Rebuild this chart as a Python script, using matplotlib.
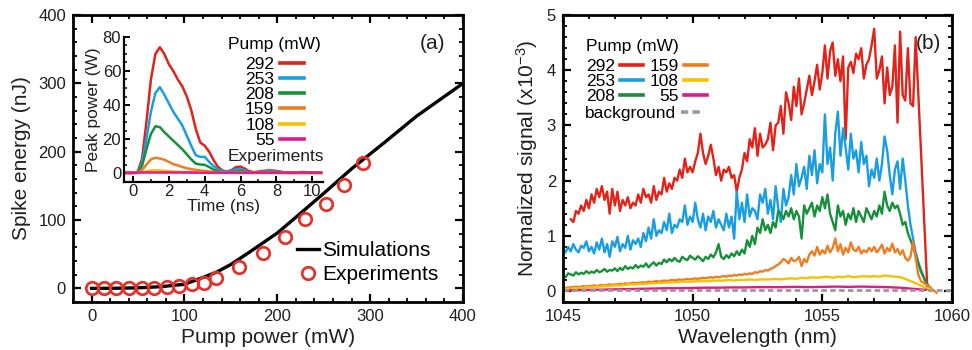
import numpy as np
import matplotlib
matplotlib.use('Agg')
import matplotlib.pyplot as plt
from matplotlib.ticker import MultipleLocator

plt.rcParams['font.family'] = ['Liberation Sans', 'DejaVu Sans']
plt.rcParams['mathtext.fontset'] = 'custom'
plt.rcParams['mathtext.rm'] = 'Liberation Sans'
plt.rcParams['mathtext.it'] = 'Liberation Sans:italic'
plt.rcParams['mathtext.default'] = 'regular'

# ---------------- data: panel (a) ----------------
sim_x = [0, 25, 50, 75, 100, 110, 120, 135, 150, 170, 200, 220, 250, 280, 315, 350, 400]
sim_y = [0, 0.2, 0.8, 2.5, 6, 11, 16, 24, 35, 53, 81, 104, 139, 175, 213, 252, 300]
exp_x = [0, 13, 26, 40, 54, 67, 81, 94, 108, 121, 134, 159, 185, 208, 230, 253, 272, 292]
exp_y = [0, 0, 0, 0, 0, 1, 2, 3.5, 7, 8.5, 14.5, 31, 52, 74.5, 101, 123, 151.5, 183]

# inset: peak power vs time
t_ns = [-0.5, -0.25, 0, 0.25, 0.5, 0.75, 1.0, 1.25, 1.5, 1.75, 2.0, 2.25, 2.5, 2.75, 3.0,
        3.25, 3.5, 3.75, 4.0, 4.25, 4.5, 4.75, 5.0, 5.25, 5.5, 5.75, 6.0, 6.25, 6.5, 6.75,
        7.0, 7.25, 7.5, 7.75, 8.0, 8.25, 8.5, 8.75, 9.0, 9.25, 9.5, 9.75, 10.0, 10.25, 10.5]
pk292 = [0, 0, 0, 0.5, 8, 30, 55, 70, 74, 70, 64, 60, 55, 51, 45, 37, 26, 18, 16, 12.5, 7.5,
         3.5, 1.5, 0.8, 1.8, 3.5, 3.8, 2.5, 1.0, 0.5, 0.8, 1.2, 1.5, 1.5, 1.2, 0.8, 0.3, 0.2,
         0.3, 0.5, 0.6, 0.4, 0.4, 0.3, 0.2]
pk253 = [0, 0, 0, 0.3, 6, 20, 36, 47, 50.5, 46, 41, 36, 32, 28, 22, 16, 10.5, 9.5, 9.5, 6.5,
         4, 2.2, 1.2, 1.0, 1.5, 2.2, 2.2, 1.5, 0.6, 0.4, 0.5, 0.8, 1.0, 1.0, 0.8, 0.5, 0.2, 0.1,
         0.2, 0.3, 0.4, 0.3, 0.3, 0.2, 0.1]
pk208 = [0, 0, 0, 0.2, 4, 14, 23, 27.5, 27, 24, 21.5, 19, 16.5, 14, 11, 8, 5.5, 5, 4.8, 3.5,
         2, 1, 0.5, 0.4, 0.6, 0.9, 1.0, 0.7, 0.3, 0.2, 0.3, 0.4, 0.5, 0.5, 0.4, 0.3, 0.1, 0.1,
         0.1, 0.2, 0.2, 0.2, 0.1, 0.1, 0.1]
pk159 = [0, 0, 0, 0.1, 1.5, 5, 8, 9, 8.5, 7.8, 6.5, 5.2, 4.5, 3.5, 2.8, 2.3, 1.8, 1.5, 1.2, 0.9,
         0.6, 0.4, 0.3, 0.2, 0.2, 0.3, 0.3, 0.2, 0.1, 0.1, 0.1, 0.1, 0.1, 0.1, 0.1, 0.1,
         0, 0, 0, 0, 0, 0, 0, 0, 0]
pk108 = [0, 0, 0, 0, 0.3, 1.0, 1.5, 1.6, 1.5, 1.3, 1.1, 0.9, 0.7, 0.6, 0.5, 0.4, 0.3, 0.3, 0.2,
         0.2, 0.1, 0, 0, 0, 0, 0, 0, 0, 0, 0, 0, 0, 0, 0, 0, 0, 0, 0, 0, 0, 0, 0, 0, 0, 0]
pk55 = [0.2, 0.2, 0.2, 0.2, 0.3, 0.3, 0.3, 0.3, 0.3, 0.3, 0.3, 0.3, 0.3, 0.3, 0.3, 0.3, 0.2,
        0.2, 0.2, 0.2, 0.2, 0.2, 0.2, 0.2, 0.2, 0.2, 0.2, 0.2, 0.2, 0.2, 0.2, 0.2, 0.2, 0.2,
        0.2, 0.2, 0.2, 0.2, 0.2, 0.2, 0.2, 0.2, 0.2, 0.2, 0.2]
pump_labels = ['292', '253', '208', '159', '108', '55']

# ---------------- data: panel (b) ----------------
# spectra sampled every 0.1 nm from the given start wavelength, followed by the cut-off tail
sp292_start = 1045.3
sp292 = [1.30, 1.25, 1.45, 1.40, 1.55, 1.45, 1.65, 1.50,
         1.75, 1.60, 1.85, 1.70, 1.90, 1.65, 1.80, 1.40, 1.85, 1.55,
         1.80, 1.45, 1.65, 1.55, 1.70, 1.50, 1.60, 1.55, 1.75, 1.60,
         1.85, 1.70, 1.75, 1.60, 1.90, 1.65, 1.80, 1.75, 2.05, 1.80,
         1.95, 1.85, 2.05, 2.00, 2.20, 2.05, 2.40, 2.15, 2.25, 2.15,
         2.35, 2.50, 2.85, 2.50, 2.30, 2.45, 2.65, 2.40, 2.10, 2.25,
         2.00, 2.20, 2.15, 2.25, 2.05, 2.10, 1.80, 2.05, 2.20, 2.50,
         2.35, 2.75, 2.60, 2.95, 2.45, 2.85, 2.60, 2.65, 2.75, 3.05,
         2.55, 3.00, 3.05, 3.35, 2.85, 3.60, 3.40, 3.10, 3.70, 3.35,
         3.85, 3.20, 3.40, 3.65, 3.90, 3.55, 3.80, 4.10, 3.65, 3.95,
         4.45, 3.85, 4.35, 4.50, 3.90, 4.20, 3.80, 4.25, 2.75, 4.05,
         4.15, 3.95, 4.30, 4.20, 4.40, 3.85, 4.10, 4.20, 4.45, 4.75,
         3.85, 4.00, 4.25, 3.40, 4.05, 3.55, 3.70, 4.45, 3.05, 4.70,
         3.55, 3.45, 4.40, 3.40, 3.35, 4.60]
sp292_tail_wl = [1059.05]
sp292_tail = [0.05]

sp253_start = 1045.0
sp253 = [0.75, 0.70, 0.80, 0.72, 0.85, 0.75, 0.70, 0.82, 0.78, 0.90,
         0.72, 0.80, 0.68, 0.88, 0.75, 0.95, 0.70, 0.85, 0.62, 0.90,
         0.80, 0.98, 0.72, 0.85, 0.78, 1.00, 0.75, 0.92, 0.85, 0.95,
         0.80, 1.05, 0.90, 1.15, 0.95, 1.30, 1.00, 1.10, 1.05, 1.25,
         1.10, 1.40, 1.05, 1.20, 1.15, 1.30, 1.25, 1.55, 1.20, 1.35,
         1.25, 1.60, 1.30, 1.15, 1.40, 1.10, 1.35, 1.25, 1.45, 1.15,
         1.30, 1.20, 1.10, 1.40, 1.15, 1.35, 0.95, 1.80, 1.30, 1.60,
         1.25, 1.75, 1.35, 1.50, 1.45, 1.30, 1.75, 1.60, 1.85, 1.40,
         1.65, 1.30, 1.90, 1.50, 1.25, 1.85, 1.55, 1.70, 2.10, 1.75,
         2.30, 1.90, 2.05, 2.25, 1.85, 2.45, 2.10, 2.55, 1.95, 2.30,
         2.15, 3.20, 2.30, 2.60, 2.00, 2.85, 3.25, 2.45, 2.95, 2.60,
         2.20, 2.85, 2.40, 2.55, 2.15, 2.70, 2.30, 2.45, 1.90, 2.20,
         2.05, 2.40, 2.00, 2.30, 2.80, 2.55, 2.10, 1.75, 2.20, 2.35,
         1.85, 2.40, 2.00, 1.55, 1.20]
sp253_tail_wl = [1058.6, 1058.8, 1059.1]
sp253_tail = [0.70, 0.35, 0.05]

sp208_start = 1045.0
sp208 = [0.28, 0.25, 0.32, 0.30, 0.28, 0.34, 0.30, 0.33, 0.31, 0.36,
         0.32, 0.35, 0.33, 0.38, 0.34, 0.36, 0.40, 0.35, 0.38, 0.37,
         0.41, 0.36, 0.42, 0.38, 0.45, 0.40, 0.43, 0.41, 0.47, 0.42,
         0.46, 0.44, 0.50, 0.43, 0.48, 0.52, 0.46, 0.51, 0.49, 0.57,
         0.52, 0.58, 0.54, 0.60, 0.55, 0.53, 0.62, 0.58, 0.56, 0.64,
         0.60, 0.57, 0.63, 0.59, 0.54, 0.62, 0.58, 0.66, 0.61, 0.70,
         0.85, 0.62, 0.58, 0.65, 0.60, 0.68, 0.63, 0.72, 0.65, 0.75,
         0.68, 0.92, 0.80, 1.00, 0.85, 1.15, 1.05, 1.30, 1.10, 1.20,
         1.05, 1.25, 1.15, 1.45, 1.40, 1.30, 1.45, 1.35, 1.50, 1.30,
         1.45, 1.35, 0.95, 1.55, 1.40, 1.50, 1.60, 1.35, 1.55, 1.45,
         1.70, 1.50, 1.75, 1.40, 1.25, 1.10, 1.55, 1.35, 1.45, 1.20,
         1.40, 1.30, 1.50, 1.25, 1.45, 1.35, 1.25, 1.50, 1.40, 1.30,
         1.45, 1.35, 1.55, 1.40, 1.80, 1.55, 1.45, 1.60, 1.50, 1.55,
         1.40, 1.20, 1.25, 1.05]
sp208_tail_wl = [1058.5, 1058.7, 1059.0, 1059.2]
sp208_tail = [0.80, 0.50, 0.15, 0.03]

sp159_start = 1045.0
sp159 = [0.05, 0.06, 0.06, 0.07, 0.07, 0.08, 0.07, 0.08, 0.09, 0.08,
         0.09, 0.09, 0.10, 0.09, 0.10, 0.11, 0.10, 0.11, 0.12, 0.11,
         0.12, 0.12, 0.13, 0.12, 0.14, 0.13, 0.14, 0.15, 0.14, 0.15,
         0.15, 0.16, 0.15, 0.17, 0.16, 0.17, 0.18, 0.17, 0.18, 0.19,
         0.18, 0.19, 0.20, 0.19, 0.20, 0.21, 0.20, 0.21, 0.22, 0.21,
         0.22, 0.23, 0.22, 0.23, 0.24, 0.23, 0.24, 0.25, 0.24, 0.26,
         0.25, 0.26, 0.27, 0.26, 0.28, 0.27, 0.29, 0.28, 0.30, 0.29,
         0.31, 0.30, 0.32, 0.31, 0.34, 0.33, 0.36, 0.35, 0.38, 0.37,
         0.40, 0.42, 0.45, 0.48, 0.52, 0.58, 0.55, 0.50, 0.60, 0.54,
         0.56, 0.62, 0.45, 0.58, 0.52, 0.66, 0.72, 0.64, 0.80, 0.66,
         0.74, 0.68, 0.82, 0.70, 0.78, 0.95, 0.72, 0.85, 0.66, 0.78,
         0.70, 0.88, 0.75, 0.72, 0.80, 0.68, 0.74, 0.70, 0.78, 0.72,
         0.80, 0.70, 0.76, 0.84, 0.68, 0.78, 0.72, 0.86, 0.70, 0.76,
         0.66, 0.74, 0.60, 0.55, 0.62, 0.90]
sp159_tail_wl = [1058.7, 1058.8, 1059.0, 1059.2, 1059.4]
sp159_tail = [0.30, 0.18, 0.12, 0.05, -0.03]

# 0.2 nm sampling
sp108_start = 1045.0
sp108 = [0.03, 0.04, 0.05, 0.05, 0.06, 0.07, 0.07, 0.08, 0.09, 0.09,
         0.10, 0.10, 0.11, 0.12, 0.12, 0.13, 0.13, 0.14, 0.14, 0.15,
         0.15, 0.16, 0.16, 0.17, 0.17, 0.17, 0.18, 0.18, 0.18, 0.19,
         0.19, 0.19, 0.20, 0.19, 0.20, 0.20, 0.21, 0.20, 0.21, 0.21,
         0.21, 0.22, 0.21, 0.22, 0.23, 0.22, 0.24, 0.23, 0.25, 0.24,
         0.25, 0.26, 0.24, 0.26, 0.25, 0.27, 0.25, 0.26, 0.27, 0.26,
         0.27, 0.26, 0.28, 0.27, 0.26, 0.25, 0.22, 0.18, 0.14, 0.10,
         0.06, 0.03]

# 0.5 nm sampling
sp55_start = 1045.0
sp55 = [0.01, 0.015, 0.02, 0.025, 0.03, 0.035, 0.04, 0.045, 0.05, 0.05, 0.055, 0.06,
        0.06, 0.065, 0.065, 0.07, 0.07, 0.07, 0.075, 0.07, 0.075, 0.08, 0.075, 0.08,
        0.075, 0.07, 0.06, 0.04, 0.02]

bg_wl = [1045.0, 1060.0]
bg = [0.02, 0.02]

colors = {'292': '#e2231a', '253': '#1b9de2', '208': '#17903a',
          '159': '#ee7d22', '108': '#f6c200', '55': '#e5188a'}
TXT = '#231f20'

# ---------------- figure ----------------
fig = plt.figure(figsize=(9.72, 3.5), dpi=100)
ax1 = fig.add_axes([0.0751, 0.137, 0.4012, 0.820])
ax2 = fig.add_axes([0.5792, 0.137, 0.4002, 0.820])
axin = fig.add_axes([0.1276, 0.4814, 0.2047, 0.4129])


def style_main(ax):
    for s in ax.spines.values():
        s.set_linewidth(2.0)
    ax.tick_params(which='both', direction='in', top=True, right=True,
                   labelsize=12, colors='k', labelcolor=TXT)
    ax.tick_params(which='major', length=5.5, width=1.6, pad=5)
    ax.tick_params(which='minor', length=3, width=1.3)


# panel (a)
style_main(ax1)
ax1.plot(sim_x, sim_y, color='k', lw=2.4, label='Simulations', zorder=2)
ax1.plot(exp_x, exp_y, 'o', mfc='none', mec='#e2342b', mew=2.0, ms=9,
         label='Experiments', zorder=3)
ax1.set_xlim(-20, 400)
ax1.set_ylim(-20, 400)
ax1.xaxis.set_major_locator(MultipleLocator(100))
ax1.xaxis.set_minor_locator(MultipleLocator(20))
ax1.yaxis.set_major_locator(MultipleLocator(100))
ax1.yaxis.set_minor_locator(MultipleLocator(20))
ax1.set_xlabel('Pump power (mW)', fontsize=15, color=TXT, labelpad=3)
ax1.set_ylabel('Spike energy (nJ)', fontsize=15, color=TXT, labelpad=5)
ax1.legend(loc='lower right', bbox_to_anchor=(0.936, 0.062), frameon=False,
           fontsize=15, handlelength=1.05, handletextpad=0.15, labelspacing=0.25,
           borderpad=0, borderaxespad=0)
ax1.text(0.954, 0.902, '(a)', ha='right', va='center', fontsize=15, color=TXT,
         transform=ax1.transAxes)

# inset
axin.set_facecolor('none')
axin.spines['top'].set_visible(False)
axin.spines['right'].set_visible(False)
for s in ('left', 'bottom'):
    axin.spines[s].set_linewidth(1.6)
inset_series = [pk292, pk253, pk208, pk159, pk108, pk55]
for lab, ser in zip(pump_labels, inset_series):
    axin.plot(t_ns, ser, color=colors[lab], lw=1.8, label=lab)
axin.set_xlim(-0.5, 10.6)
axin.set_ylim(-5, 80)
axin.xaxis.set_major_locator(MultipleLocator(2))
axin.xaxis.set_minor_locator(MultipleLocator(1))
axin.yaxis.set_major_locator(MultipleLocator(20))
axin.yaxis.set_minor_locator(MultipleLocator(5))
axin.tick_params(which='both', direction='in', labelsize=12, labelcolor=TXT)
axin.tick_params(which='major', length=4, width=1.4, pad=2)
axin.tick_params(which='minor', length=2.2, width=1.1)
axin.set_xlabel('Time (ns)', fontsize=12.5, color=TXT, labelpad=0)
axin.set_ylabel('Peak power (W)', fontsize=12.5, color=TXT, labelpad=1)
legi = axin.legend(title='Pump (mW)', title_fontsize=12.5, fontsize=12.5,
                   markerfirst=False, loc='upper left', bbox_to_anchor=(0.523, 1.0),
                   frameon=False, borderpad=0, borderaxespad=0, handlelength=1.4,
                   handletextpad=0.3, labelspacing=0.0)
legi._legend_box.sep = 3.5
for h in legi.get_lines():
    h.set_linewidth(2.6)
axin.text(0.523, 0.176, 'Experiments', transform=axin.transAxes, fontsize=12.5,
          color=TXT, ha='left', va='center')

# panel (b)
style_main(ax2)


def grid(start, n, step):
    return start + step * np.arange(n)


b_series = [
    ('292', np.concatenate([grid(sp292_start, len(sp292), 0.1), sp292_tail_wl]), sp292 + sp292_tail),
    ('253', np.concatenate([grid(sp253_start, len(sp253), 0.1), sp253_tail_wl]), sp253 + sp253_tail),
    ('208', np.concatenate([grid(sp208_start, len(sp208), 0.1), sp208_tail_wl]), sp208 + sp208_tail),
    ('159', np.concatenate([grid(sp159_start, len(sp159), 0.1), sp159_tail_wl]), sp159 + sp159_tail),
    ('108', grid(sp108_start, len(sp108), 0.2), sp108),
    ('55', grid(sp55_start, len(sp55), 0.5), sp55),
]
handles = {}
for lab, wl, ser in b_series:
    handles[lab], = ax2.plot(wl, ser, color=colors[lab], lw=1.7, label=lab)
bgl, = ax2.plot(bg_wl, bg, color='#9a9a9a', lw=2.0, ls=(0, (2, 1.2)), label='background')
ax2.set_xlim(1045, 1060)
ax2.set_ylim(-0.2, 5)
ax2.xaxis.set_major_locator(MultipleLocator(5))
ax2.xaxis.set_minor_locator(MultipleLocator(1))
ax2.yaxis.set_major_locator(MultipleLocator(1))
ax2.yaxis.set_minor_locator(MultipleLocator(0.2))
ax2.set_xlabel('Wavelength (nm)', fontsize=15, color=TXT, labelpad=3)
ax2.set_ylabel('Normalized signal (x10$^{-3}$)', fontsize=15, color=TXT, labelpad=5)

legA = ax2.legend([handles[k] for k in pump_labels], pump_labels, ncol=2,
                  title='Pump (mW)', title_fontsize=12.5, fontsize=12.5, alignment='left',
                  markerfirst=False, loc='upper left', bbox_to_anchor=(0.059, 0.917),
                  frameon=False, borderpad=0, borderaxespad=0, handlelength=1.3,
                  handletextpad=0.3, columnspacing=0.4, labelspacing=0.0)
legA._legend_box.sep = 3.5
for h in legA.get_lines():
    h.set_linewidth(2.6)
ax2.add_artist(legA)
legB = ax2.legend([bgl], ['background'], fontsize=12.5, markerfirst=False,
                  loc='upper right', bbox_to_anchor=(0.3625, 0.683), frameon=False,
                  borderpad=0, borderaxespad=0, handlelength=1.3, handletextpad=0.3)
for h in legB.get_lines():
    h.set_linewidth(2.6)
ax2.text(0.972, 0.902, '(b)', ha='right', va='center', fontsize=15, color=TXT,
         transform=ax2.transAxes)

fig.savefig('out.png', dpi=100)
